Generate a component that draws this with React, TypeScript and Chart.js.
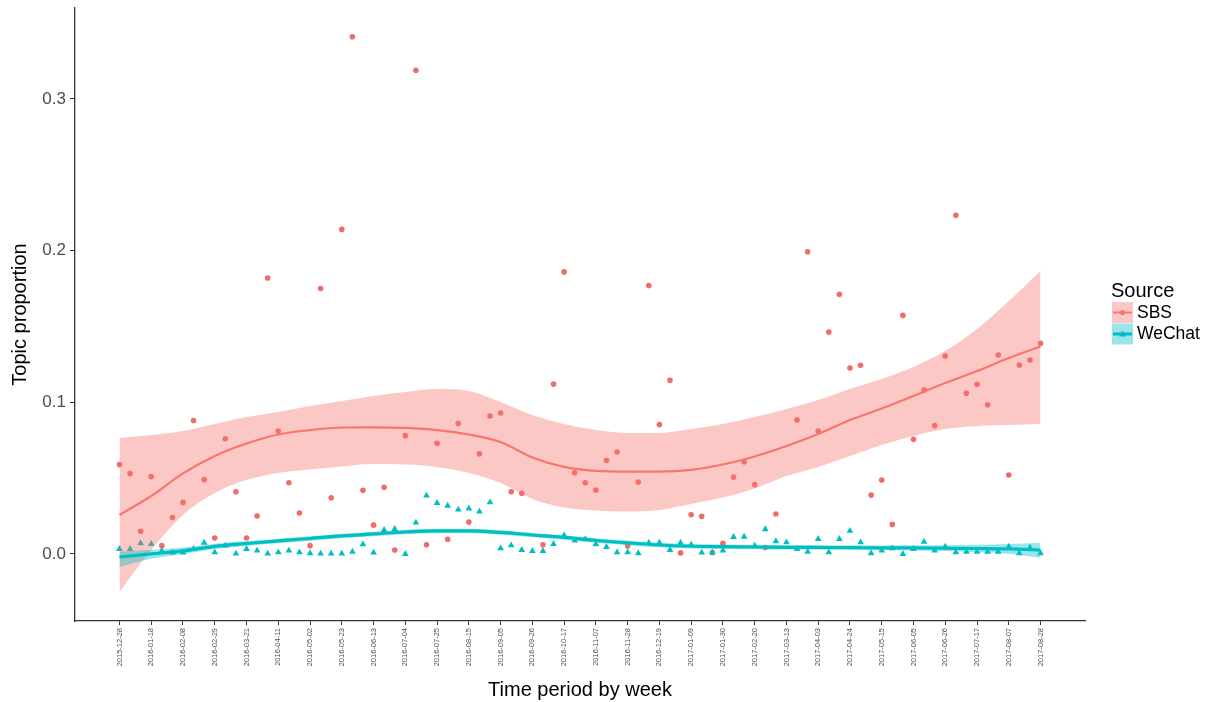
import React, { useEffect, useRef } from "react";
import { Chart, registerables } from "chart.js";

Chart.register(...registerables);

// ---- Data ----
const weekLabels = [
  "2015-12-28", "2016-01-18", "2016-02-08", "2016-02-29", "2016-03-21", "2016-04-11",
  "2016-05-02", "2016-05-23", "2016-06-13", "2016-07-04", "2016-07-25", "2016-08-15",
  "2016-09-05", "2016-09-26", "2016-10-17", "2016-11-07", "2016-11-28", "2016-12-19",
  "2017-01-09", "2017-01-30", "2017-02-20", "2017-03-13", "2017-04-03", "2017-04-24",
  "2017-05-15", "2017-06-05", "2017-06-26", "2017-07-17", "2017-08-07", "2017-08-28",
];
// week index of each labelled tick (one label every 3 weeks)
const tickWeeks = [0, 3, 6, 9, 12, 15, 18, 21, 24, 27, 30, 33, 36, 39, 42, 45, 48, 51, 54, 57, 60, 63, 66, 69, 72, 75, 78, 81, 84, 87];

const yTicks = [0, 0.1, 0.2, 0.3];

const seriesNames = ["SBS", "WeChat"];
const legendTitle = "Source";

// weekly topic proportion, week 0 = 2015-12-28
const sbsValues: (number | null)[] = [
  0.059, 0.053, 0.015, 0.051, 0.0055, 0.024, 0.034, 0.088, 0.049, 0.0105,
  0.076, 0.041, 0.0105, 0.025, 0.182, 0.081, 0.047, 0.027, 0.0055, 0.175,
  0.037, 0.214, 0.341, 0.042, 0.019, 0.044, 0.0026, 0.078, 0.319, 0.006,
  0.073, 0.0097, 0.086, 0.021, 0.066, 0.091, 0.093, 0.041, 0.040, null,
  0.006, 0.112, 0.186, 0.0536, 0.047, 0.0422, 0.0617, 0.0672, 0.0053, 0.0474,
  0.177, 0.0853, 0.1145, 0.0007, 0.0259, 0.0248, 0.0009, 0.0071, 0.0507, 0.0608,
  0.0457, 0.0042, 0.0264, null, 0.0883, 0.1993, 0.0811, 0.1463, 0.1712, 0.1226,
  0.1244, 0.0388, 0.0488, 0.0195, 0.1573, 0.0756, 0.1081, 0.0846, 0.1305, 0.2233,
  0.1059, 0.1119, 0.0984, 0.1312, 0.0521, 0.1246, 0.1279, 0.1389,
];

const wechatValues: number[] = [
  0.0033, 0.0033, 0.0071, 0.0066, 0.002, 0.0009, 0.0009, 0.0033, 0.0074, 0.0011,
  0.0055, 0.0002, 0.0033, 0.0022, 0.0002, 0.0011, 0.0022, 0.0011, 0.0005, 0.0002,
  0.0002, 0.0002, 0.0015, 0.0064, 0.0009, 0.0158, 0.0165, 0.0, 0.0207, 0.0385,
  0.0336, 0.0318, 0.0293, 0.03, 0.0279, 0.034, 0.0037, 0.0057, 0.0026, 0.002,
  0.002, 0.0066, 0.0123, 0.0088, 0.0097, 0.0064, 0.0046, 0.0011, 0.0011, 0.0005,
  0.0074, 0.0074, 0.0026, 0.0074, 0.0061, 0.0009, 0.001, 0.0022, 0.0112, 0.0114,
  0.0055, 0.0163, 0.0084, 0.0077, 0.0033, 0.0015, 0.0099, 0.0011, 0.0099, 0.0152,
  0.0077, 0.0005, 0.0022, 0.0037, 0.0, 0.0033, 0.0081, 0.0022, 0.0048, 0.0011,
  0.0015, 0.0015, 0.0015, 0.0015, 0.0048, 0.0005, 0.0042, 0.0005,
];

// loess smooth and confidence band, read at each labelled week
const sbsFit = [
  0.0257, 0.0382, 0.0531, 0.0646, 0.0728, 0.0788, 0.0817, 0.0834, 0.0835, 0.0831,
  0.0817, 0.0788, 0.0738, 0.0636, 0.0574, 0.0548, 0.0543, 0.0543, 0.0554, 0.059,
  0.0643, 0.0712, 0.0791, 0.0883, 0.0959, 0.1042, 0.1127, 0.1206, 0.1292, 0.1368,
];
const sbsUpper = [
  0.0765, 0.0784, 0.0811, 0.0857, 0.0903, 0.0936, 0.0976, 0.1009, 0.1042, 0.1068,
  0.1088, 0.1075, 0.1002, 0.0916, 0.0857, 0.0817, 0.0798, 0.0798, 0.0824, 0.0857,
  0.0903, 0.0956, 0.1015, 0.1088, 0.1154, 0.1233, 0.1338, 0.1483, 0.1668, 0.1866,
];
const sbsLower = [
  -0.025, 0.0026, 0.0257, 0.0402, 0.0488, 0.0534, 0.0557, 0.0577, 0.0593, 0.059,
  0.0574, 0.0534, 0.0468, 0.0363, 0.0307, 0.0287, 0.028, 0.029, 0.033, 0.0372,
  0.0432, 0.0514, 0.0574, 0.0646, 0.0719, 0.0778, 0.0824, 0.0844, 0.085, 0.0857,
];
const wechatFit = [
  -0.002, 0.0, 0.002, 0.005, 0.0069, 0.0086, 0.0102, 0.0119, 0.0132, 0.0145,
  0.0152, 0.0152, 0.0142, 0.0125, 0.0109, 0.0089, 0.0073, 0.0059, 0.0051, 0.0048,
  0.0046, 0.0044, 0.0043, 0.0042, 0.004, 0.004, 0.0038, 0.0036, 0.0033, 0.0026,
];
const wechatUpper = [
  0.0015, 0.0028, 0.0042, 0.0068, 0.0085, 0.0101, 0.0117, 0.0134, 0.0147, 0.016,
  0.0167, 0.0167, 0.0157, 0.014, 0.0124, 0.0104, 0.0088, 0.0074, 0.0066, 0.0063,
  0.0061, 0.0059, 0.0058, 0.0057, 0.0056, 0.0057, 0.0057, 0.006, 0.0066, 0.0074,
];
const wechatLower = [
  -0.0085, -0.0032, -0.0002, 0.0032, 0.0053, 0.0071, 0.0087, 0.0104, 0.0117, 0.013,
  0.0137, 0.0137, 0.0127, 0.011, 0.0094, 0.0074, 0.0058, 0.0044, 0.0036, 0.0033,
  0.0031, 0.0029, 0.0028, 0.0027, 0.0024, 0.0023, 0.0019, 0.0012, 0.0002, -0.0025,
];

// ---- Styles ----
const RED = "#F8766D";
const RED_POINT = "#F26B69";
const RED_BAND = "rgba(248,118,109,0.4)";
const TEAL = "#00BFC4";
const TEAL_BAND = "rgba(0,191,196,0.4)";
const FONT = '"Liberation Sans", Arial, Helvetica, sans-serif';

const toXY = (xs: number[], ys: (number | null)[]) =>
  ys
    .map((y, i) => ({ x: xs[i], y }))
    .filter((p) => p.y !== null) as { x: number; y: number }[];

const weekIdx = (arr: unknown[]) => arr.map((_, i) => i);

const legendPlugin = {
  id: "sourceLegend",
  afterDraw(chart: any) {
    const ctx = chart.ctx as CanvasRenderingContext2D;
    ctx.save();
    ctx.fillStyle = "#000";
    ctx.textAlign = "left";
    ctx.textBaseline = "middle";
    ctx.font = `20px ${FONT}`;
    ctx.fillText(legendTitle, 1111, 291);
    const items = [
      { name: seriesNames[0], color: RED, band: RED_BAND, lw: 2, shape: "circle" },
      { name: seriesNames[1], color: TEAL, band: TEAL_BAND, lw: 3, shape: "triangle" },
    ];
    const kx = 1112;
    const ks = 21;
    items.forEach((it, j) => {
      const y0 = 302 + j * (ks + 0.5);
      const cy = y0 + ks / 2;
      ctx.fillStyle = it.band;
      ctx.fillRect(kx, y0, ks, ks);
      ctx.strokeStyle = it.color;
      ctx.lineWidth = it.lw;
      ctx.beginPath();
      ctx.moveTo(kx + 1, cy);
      ctx.lineTo(kx + ks - 1, cy);
      ctx.stroke();
      ctx.fillStyle = it.color;
      ctx.beginPath();
      if (it.shape === "circle") {
        ctx.arc(kx + ks / 2, cy, 2.6, 0, Math.PI * 2);
      } else {
        const r = 3.6;
        ctx.moveTo(kx + ks / 2, cy - r);
        ctx.lineTo(kx + ks / 2 + r, cy + r * 0.7);
        ctx.lineTo(kx + ks / 2 - r, cy + r * 0.7);
        ctx.closePath();
      }
      ctx.fill();
      ctx.fillStyle = "#000";
      ctx.font = `17.5px ${FONT}`;
      ctx.fillText(it.name, 1137, cy + 0.5);
    });
    ctx.restore();
  },
};

export default function App() {
  const ref = useRef<HTMLCanvasElement | null>(null);

  useEffect(() => {
    if (!ref.current) return;
    Chart.defaults.font.family = FONT;

    const bandCommon = {
      pointRadius: 0,
      borderWidth: 0,
      borderColor: "transparent",
      cubicInterpolationMode: "monotone" as const,
      showLine: true,
    };

    const chart = new Chart(ref.current, {
      type: "line",
      data: {
        datasets: [
          {
            label: "SBS lower",
            data: toXY(tickWeeks, sbsLower),
            ...bandCommon,
            fill: false,
            order: 4,
          },
          {
            label: "SBS upper",
            data: toXY(tickWeeks, sbsUpper),
            ...bandCommon,
            fill: "-1",
            backgroundColor: RED_BAND,
            order: 4,
          },
          {
            label: "SBS fit",
            data: toXY(tickWeeks, sbsFit),
            pointRadius: 0,
            borderWidth: 2.2,
            borderColor: RED,
            cubicInterpolationMode: "monotone",
            fill: false,
            order: 3,
          },
          {
            label: "WeChat lower",
            data: toXY(tickWeeks, wechatLower),
            ...bandCommon,
            fill: false,
            order: 2,
          },
          {
            label: "WeChat upper",
            data: toXY(tickWeeks, wechatUpper),
            ...bandCommon,
            fill: "-1",
            backgroundColor: TEAL_BAND,
            order: 2,
          },
          {
            label: "WeChat fit",
            data: toXY(tickWeeks, wechatFit),
            pointRadius: 0,
            borderWidth: 3.2,
            borderColor: TEAL,
            cubicInterpolationMode: "monotone",
            fill: false,
            order: 1,
          },
          {
            label: seriesNames[0],
            data: toXY(weekIdx(sbsValues), sbsValues),
            showLine: false,
            pointRadius: 2.8,
            pointStyle: "circle",
            pointBackgroundColor: RED_POINT,
            pointBorderWidth: 0,
            order: 6,
          },
          {
            label: seriesNames[1],
            data: toXY(weekIdx(wechatValues), wechatValues),
            showLine: false,
            pointRadius: 3.9,
            pointStyle: "triangle",
            pointBackgroundColor: TEAL,
            pointBorderWidth: 0,
            order: 5,
          },
        ],
      },
      options: {
        responsive: false,
        animation: false,
        events: [],
        layout: { padding: { left: 0, top: 8, right: 126, bottom: 0 } },
        plugins: {
          legend: { display: false },
          tooltip: { enabled: false },
        },
        scales: {
          x: {
            type: "linear",
            min: -4.2,
            max: 91.2,
            afterBuildTicks: (scale: any) => {
              scale.ticks = tickWeeks.map((v) => ({ value: v }));
            },
            afterFit: (scale: any) => {
              scale.height = 81;
              scale.paddingLeft = 0;
              scale.paddingRight = 0;
            },
            ticks: {
              autoSkip: false,
              minRotation: 90,
              maxRotation: 90,
              padding: 3,
              color: "#4d4d4d",
              font: { size: 7.5 },
              callback: (_v: any, i: number) => weekLabels[i],
            },
            grid: {
              drawOnChartArea: false,
              drawTicks: true,
              tickLength: 4,
              tickColor: "#333",
              tickWidth: 1,
            },
            border: { display: true, color: "#333", width: 1.3 },
            title: {
              display: true,
              text: "Time period by week",
              color: "#000",
              font: { size: 20 },
              padding: { top: 0, bottom: 0 },
            },
          },
          y: {
            type: "linear",
            min: -0.0442,
            max: 0.36,
            afterBuildTicks: (scale: any) => {
              scale.ticks = yTicks.map((v) => ({ value: v }));
            },
            afterFit: (scale: any) => {
              scale.width = 75;
              scale.paddingTop = 0;
              scale.paddingBottom = 0;
            },
            ticks: {
              padding: 4,
              color: "#4d4d4d",
              font: { size: 17 },
              callback: (v: any) => Number(v).toFixed(1),
            },
            grid: {
              drawOnChartArea: false,
              drawTicks: true,
              tickLength: 5,
              tickColor: "#333",
              tickWidth: 1,
            },
            border: { display: true, color: "#333", width: 1.3 },
            title: {
              display: true,
              text: "Topic proportion",
              color: "#000",
              font: { size: 20 },
              padding: { top: 8, bottom: 0 },
            },
          },
        },
      },
      plugins: [legendPlugin],
    });

    return () => chart.destroy();
  }, []);

  return (
    <div style={{ position: "fixed", left: 0, top: 0, width: 1211, height: 702, background: "#fff" }}>
      <canvas ref={ref} width={1211} height={702} style={{ display: "block" }} />
    </div>
  );
}
